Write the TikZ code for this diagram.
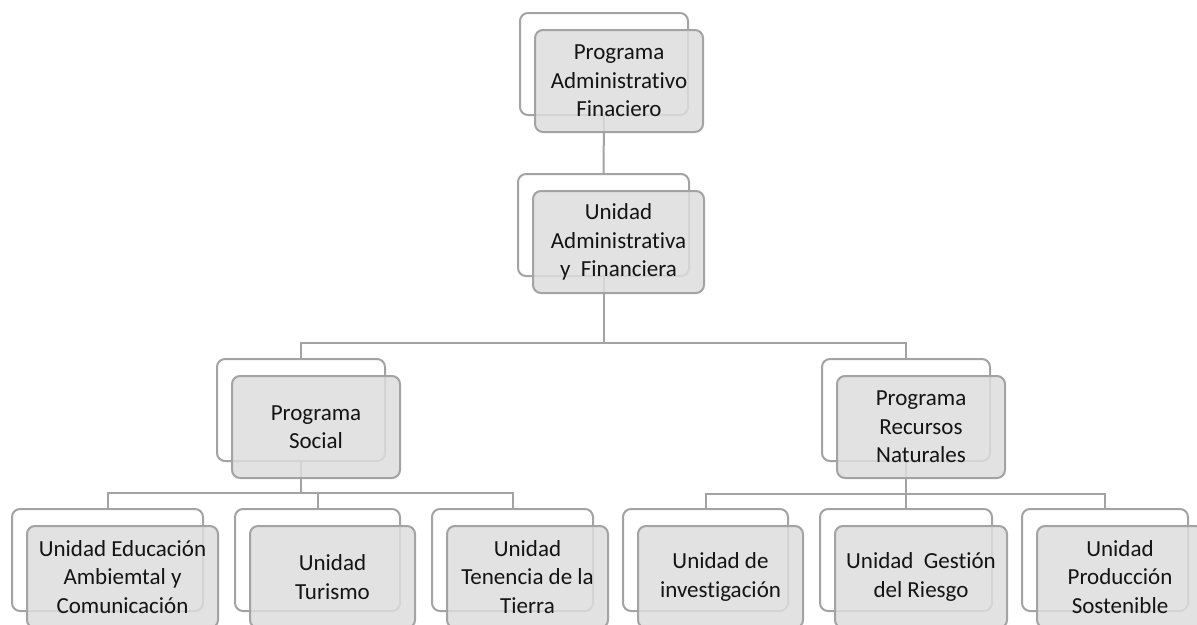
\documentclass[tikz,border=0pt]{standalone}
\usepackage{fontspec}
\setmainfont{Carlito}[Ligatures={NoCommon}]
\definecolor{linegray}{HTML}{A3A3A3}
\definecolor{frontfill}{HTML}{DDDDDD}
\definecolor{txt}{HTML}{141414}
\pgfdeclarelayer{bg}
\pgfsetlayers{bg,main}
\tikzset{
  conn/.style={draw=linegray, line width=2pt},
  backbox/.style={draw=linegray, line width=2pt, fill=white, rounded corners=8pt,
    minimum height=102pt, inner sep=0pt},
  frontbox/.style={draw=linegray, line width=2pt, fill=frontfill, fill opacity=0.85,
    text opacity=1, draw opacity=1, rounded corners=8pt, minimum height=102pt,
    inner sep=0pt, align=center, text=txt, font=\fontsize{23}{28.5}\selectfont}
}
\begin{document}
\begin{tikzpicture}[x=1pt,y=-1pt]
\useasboundingbox (0,0) rectangle (1197,624);
\clip (0,0) rectangle (1197,624);

% back boxes
\node[backbox, minimum width=168pt] (bTop) at (604,64) {};
\node[backbox, minimum width=171pt] (bAdm) at (603.5,225) {};
\node[backbox, minimum width=168pt] (bSoc) at (301,410) {};
\node[backbox, minimum width=168pt] (bNat) at (906,410) {};
\node[backbox, minimum width=191pt] (bU1) at (107.5,560) {};
\node[backbox, minimum width=165pt] (bU2) at (317.5,560) {};
\node[backbox, minimum width=161pt] (bU3) at (512.5,560) {};
\node[backbox, minimum width=165pt] (bU4) at (705.5,560) {};
\node[backbox, minimum width=172pt] (bU5) at (906,560) {};
\node[backbox, minimum width=166pt] (bU6) at (1105,560) {};

% junctions
\coordinate (jA) at (603.5,343);
\coordinate (jB) at (301,493);
\coordinate (jC) at (906,494);

% connectors (behind the boxes)
\begin{pgfonlayer}{bg}
\draw[conn] (bTop.south) -- (bAdm.north);
\draw[conn] (bAdm.south) -- (jA);
\draw[conn] (bSoc.north) |- (jA) -| (bNat.north);
\draw[conn] (bSoc.south) -- (jB);
\draw[conn] (bU1.north) |- (jB) -| (bU3.north);
\draw[conn] (jB) -| (bU2.north);
\draw[conn] (bNat.south) -- (jC) -- (bU5.north);
\draw[conn] (bU4.north) |- (jC) -| (bU6.north);
\end{pgfonlayer}

% front boxes with text
\node[frontbox, minimum width=168pt] (fTop) at (619,81) {Programa\\Administrativo\\Finaciero};
\node[frontbox, minimum width=171pt] (fAdm) at (618.5,242) {Unidad\\Administrativa\\y\ \ Financiera};
\node[frontbox, minimum width=168pt] (fSoc) at (316,427) {Programa\\Social};
\node[frontbox, minimum width=168pt] (fNat) at (921,427) {Programa\\Recursos\\Naturales};
\node[frontbox, minimum width=191pt] (fU1) at (122.5,577) {Unidad Educación\\Ambiemtal y\\Comunicación};
\node[frontbox, minimum width=165pt] (fU2) at (332.5,577) {Unidad\\Turismo};
\node[frontbox, minimum width=161pt] (fU3) at (527.5,577) {Unidad\\Tenencia de la\\Tierra};
\node[frontbox, minimum width=165pt] (fU4) at (720.5,577) {Unidad de\\investigación};
\node[frontbox, minimum width=172pt] (fU5) at (921,577) {Unidad\ \ Gestión\\del Riesgo};
\node[frontbox, minimum width=166pt] (fU6) at (1120,577) {Unidad\\Producción\\Sostenible};
\end{tikzpicture}
\end{document}
